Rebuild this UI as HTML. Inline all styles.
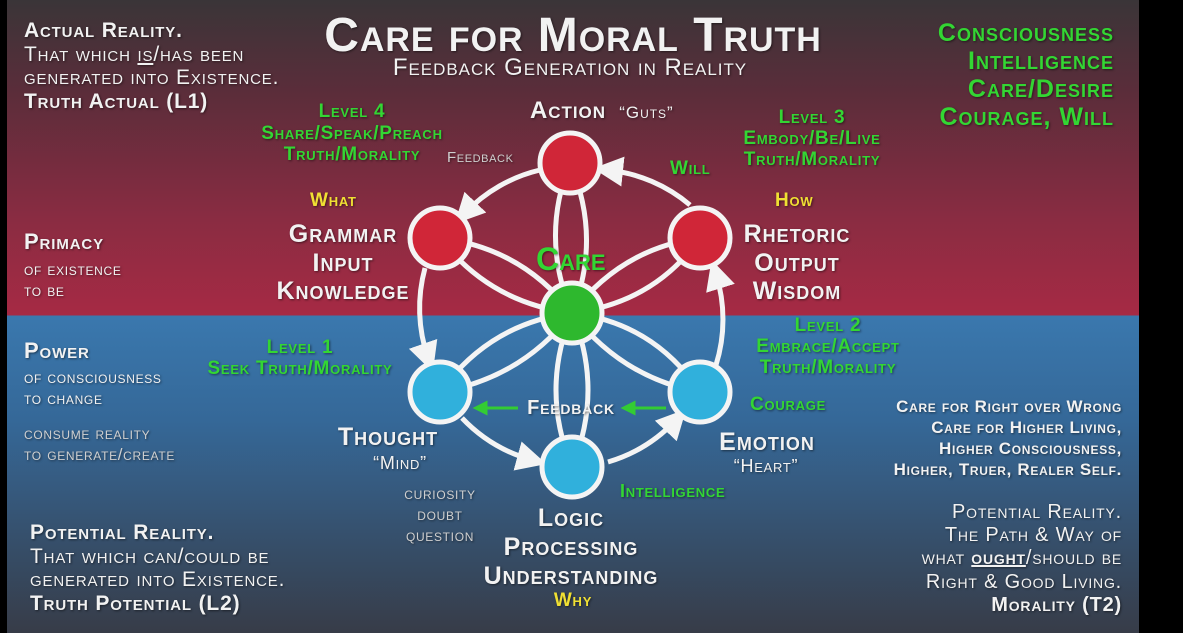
<!DOCTYPE html>
<html><head><meta charset="utf-8"><style>
html,body{margin:0;padding:0;}
body{width:1183px;height:633px;background:#000;position:relative;overflow:hidden;font-family:"Liberation Sans",sans-serif;}
#bg{position:absolute;left:7px;top:0;width:1132px;height:633px;
background:linear-gradient(to bottom,#3a3538 0px,#5a2d3a 90px,#8a2c42 220px,#a62a44 315px,#3a78ae 316px,#356898 420px,#373c48 633px);}
.t{position:absolute;font-variant:small-caps;font-weight:bold;white-space:nowrap;line-height:1;letter-spacing:0.04em;text-shadow:1px 1px 2px rgba(0,0,0,.5);}
.w{color:#f2f2f2}.g{color:#33d633}.y{color:#f0e033}.gr{color:#d0d0d0;font-weight:normal}
.c{transform:translateX(-50%);text-align:center}
.r{text-align:right}
svg{position:absolute;left:0;top:0}
</style></head><body>
<div id="bg"></div>
<svg width="1183" height="633" viewBox="0 0 1183 633">
<defs>
<marker id="a" markerWidth="6" markerHeight="6" refX="3" refY="3" orient="auto" markerUnits="strokeWidth"><path d="M0,0 L6,3 L0,6 z" fill="#f4f4f4"/></marker>
<marker id="ga" markerWidth="5" markerHeight="5" refX="2.5" refY="2.5" orient="auto" markerUnits="strokeWidth"><path d="M0,0 L5,2.5 L0,5 z" fill="#33cc33"/></marker>
</defs>
<g fill="none" stroke="#f4f4f4" stroke-width="5">
<path d="M572,313 Q540,238 570,163"/><path d="M572,313 Q602,238 570,163"/>
<path d="M572,313 Q522,248 440,238"/><path d="M572,313 Q490,303 440,238"/>
<path d="M572,313 Q654,303 700,238"/><path d="M572,313 Q622,248 700,238"/>
<path d="M572,313 Q490,323 440,392"/><path d="M572,313 Q522,378 440,392"/>
<path d="M572,313 Q622,378 700,392"/><path d="M572,313 Q654,323 700,392"/>
<path d="M572,313 Q540,390 572,467"/><path d="M572,313 Q604,390 572,467"/>
<path d="M540,170 A152,152 0 0 0 465,213" marker-end="url(#a)"/>
<path d="M690,205 A152,152 0 0 0 608,170" marker-end="url(#a)"/>
<path d="M425,268 A152,152 0 0 0 428,358" marker-end="url(#a)"/>
<path d="M462,418 A152,152 0 0 0 532,460" marker-end="url(#a)"/>
<path d="M608,462 A152,152 0 0 0 676,420" marker-end="url(#a)"/>
<path d="M716,365 A152,152 0 0 0 716,274" marker-end="url(#a)"/>
</g>
<g stroke="#33cc33" stroke-width="3" fill="none">
<line x1="518" y1="408" x2="480" y2="408" marker-end="url(#ga)"/>
<line x1="666" y1="408" x2="628" y2="408" marker-end="url(#ga)"/>
</g>
<g stroke="#f4f4f4" stroke-width="5">
<circle cx="570" cy="163" r="30" fill="#d02638"/>
<circle cx="440" cy="238" r="30" fill="#d02638"/>
<circle cx="700" cy="238" r="30" fill="#d02638"/>
<circle cx="572" cy="313" r="30" fill="#2eb82e"/>
<circle cx="440" cy="392" r="30" fill="#30b0dc"/>
<circle cx="700" cy="392" r="30" fill="#30b0dc"/>
<circle cx="572" cy="467" r="30" fill="#30b0dc"/>
</g>
</svg>

<div class="t w c" style="left:573px;top:12px;font-size:48px;letter-spacing:0.02em">Care for Moral Truth</div>
<div class="t w c" style="left:570px;top:56px;font-size:24px;font-weight:normal">Feedback Generation in Reality</div>

<div class="t w" style="left:24px;top:19px;font-size:21px;line-height:23.5px">Actual Reality.<br><span style="font-weight:normal">That which <u>is</u>/has been<br>generated into Existence.</span><br>Truth Actual (L1)</div>

<div class="t g r" style="right:69px;top:19px;font-size:25px;line-height:28px">Consciousness<br>Intelligence<br>Care/Desire<br>Courage, Will</div>

<div class="t g c" style="left:352px;top:101px;font-size:19px;line-height:21.5px">Level 4<br>Share/Speak/Preach<br>Truth/Morality</div>
<div class="t gr" style="left:447px;top:150px;font-size:15px">Feedback</div>
<div class="t w" style="left:530px;top:99px;font-size:24px">Action <span style="font-size:17px;font-weight:normal">&nbsp;“Guts”</span></div>
<div class="t g c" style="left:812px;top:107px;font-size:19px;line-height:21px">Level 3<br>Embody/Be/Live<br>Truth/Morality</div>
<div class="t g" style="left:670px;top:159px;font-size:19px">Will</div>

<div class="t y" style="left:310px;top:191px;font-size:19px">What</div>
<div class="t y" style="left:775px;top:191px;font-size:19px">How</div>

<div class="t w c" style="left:343px;top:220px;font-size:25px;line-height:28.5px">Grammar<br>Input<br>Knowledge</div>
<div class="t w c" style="left:797px;top:220px;font-size:25px;line-height:28.5px">Rhetoric<br>Output<br>Wisdom</div>
<div class="t g" style="left:536px;top:243px;font-size:32px;letter-spacing:0">Care</div>

<div class="t w" style="left:24px;top:231px;font-size:22px">Primacy</div>
<div class="t w" style="left:24px;top:259px;font-size:17px;font-weight:normal;line-height:21px">of existence<br>to be</div>

<div class="t w" style="left:24px;top:340px;font-size:22px">Power</div>
<div class="t w" style="left:24px;top:367px;font-size:17px;font-weight:normal;line-height:21px">of consciousness<br>to change</div>
<div class="t gr" style="left:24px;top:423px;font-size:17px;line-height:21px">consume reality<br>to generate/create</div>

<div class="t g c" style="left:300px;top:337px;font-size:19px;line-height:21px">Level 1<br>Seek Truth/Morality</div>
<div class="t g c" style="left:828px;top:315px;font-size:19px;line-height:21px">Level 2<br>Embrace/Accept<br>Truth/Morality</div>
<div class="t g" style="left:750px;top:395px;font-size:19px">Courage</div>

<div class="t w c" style="left:571px;top:398px;font-size:20px">Feedback</div>

<div class="t w c" style="left:388px;top:425px;font-size:25px">Thought</div>
<div class="t w c" style="left:400px;top:454px;font-size:18px;font-weight:normal">“Mind”</div>
<div class="t w c" style="left:767px;top:430px;font-size:25px">Emotion</div>
<div class="t w c" style="left:766px;top:457px;font-size:18px;font-weight:normal">“Heart”</div>

<div class="t gr c" style="left:440px;top:483px;font-size:17px;line-height:21px">curiosity<br>doubt<br>question</div>
<div class="t g" style="left:620px;top:482px;font-size:18px">Intelligence</div>

<div class="t w c" style="left:571px;top:504px;font-size:25px;line-height:29px">Logic<br>Processing<br>Understanding</div>
<div class="t y c" style="left:573px;top:591px;font-size:19px">Why</div>

<div class="t w r" style="right:61px;top:396px;font-size:17px;line-height:21px">Care for Right over Wrong<br>Care for Higher Living,<br>Higher Consciousness,<br>Higher, Truer, Realer Self.</div>
<div class="t w r" style="right:61px;top:501px;font-size:20px;line-height:23.2px"><span style="font-weight:normal">Potential Reality.<br>The Path &amp; Way of<br>what <b><u>ought</u></b>/should be<br>Right &amp; Good Living.</span><br>Morality (T2)</div>

<div class="t w" style="left:30px;top:521px;font-size:21px;line-height:23.5px">Potential Reality.<br><span style="font-weight:normal">That which can/could be<br>generated into Existence.</span><br>Truth Potential (L2)</div>
</body></html>
